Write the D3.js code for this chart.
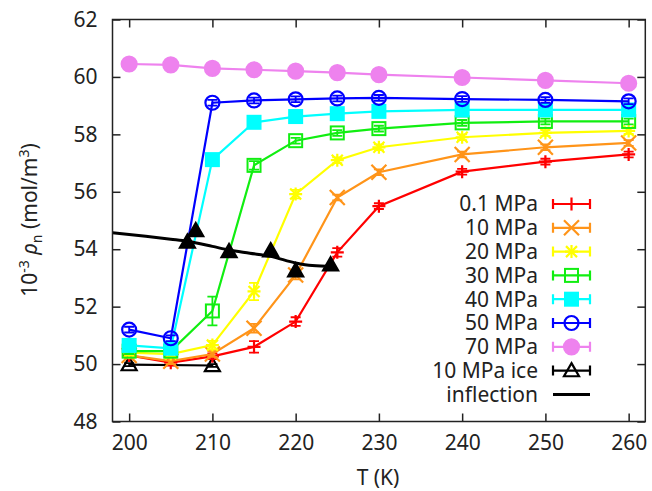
<!DOCTYPE html>
<html><head><meta charset="utf-8">
<script src="https://cdn.jsdelivr.net/npm/d3@7"></script>
<style>body{margin:0;background:#fff}svg{display:block}</style>
</head><body><svg id="c" width="652" height="491"></svg>
<script>
// ---- data ----
const temps = [200,205,210,215,220,225,230,240,250,260];
const rho01 = [50.30,50.05,50.27,50.60,51.48,53.89,55.50,56.70,57.05,57.30];
const rho10 = [50.30,50.10,50.35,51.25,53.10,55.80,56.68,57.30,57.55,57.70];
const rho20 = [50.40,50.35,50.66,52.53,55.92,57.10,57.55,57.90,58.05,58.12];
const rho30 = [50.45,50.45,51.85,56.92,57.78,58.05,58.20,58.40,58.45,58.45];
const rho40 = [50.65,50.55,57.12,58.42,58.62,58.72,58.80,58.85,58.85,58.85];
const rho50 = [51.20,50.90,59.10,59.18,59.22,59.25,59.27,59.23,59.20,59.15];
const rho70 = [60.45,60.42,60.30,60.25,60.20,60.15,60.08,59.98,59.88,59.78];
const err01 = [0.10,0.10,0.10,0.20,0.15,0.15,0.10,0.10,0.10,0.10];
const err10 = [0.10,0.10,0.10,0.15,0.15,0.10,0.10,0.10,0.10,0.10];
const err20 = [0.10,0.10,0.15,0.30,0.15,0.10,0.10,0.10,0.10,0.10];
const err30 = [0.10,0.10,0.50,0.15,0.10,0.10,0.10,0.10,0.10,0.10];
const err40 = [0.10,0.10,0.15,0.10,0.10,0.10,0.10,0.10,0.10,0.10];
const err50 = [0.10,0.10,0.10,0.10,0.10,0.10,0.10,0.10,0.10,0.10];
const err70 = [0.05,0.05,0.05,0.05,0.05,0.05,0.05,0.05,0.05,0.05];
const iceT = [200,210];
const rhoIce = [49.98,49.95];
const errIce = [0.05,0.05];
const inflT = [207,208,212,217,220,224.2];
const inflRho = [54.25,54.65,53.92,53.95,53.25,53.46];
const curveT = [198,202,205,207,210,212,214.5,217,220,222,224.5];
const curveRho = [54.57,54.45,54.35,54.28,54.10,53.97,53.86,53.75,53.52,53.43,53.40];
const seriesNames = ["0.1 MPa","10 MPa","20 MPa","30 MPa","40 MPa","50 MPa","70 MPa","10 MPa ice","inflection"];
const seriesColors = ["#ff0000","#ff9419","#ffff00","#11ee11","#00ffff","#0000ff","#ee82ee","#000000","#000000"];
const seriesMarkers = ["plus","cross","star","sqOpen","sqFill","circOpen","circFill","triOpen","none"];
const xTicks = [200,210,220,230,240,250,260];
const yTicks = [48,50,52,54,56,58,60,62];

// ---- chart ----
const svg = d3.select("#c");
const FONT = "'Noto Sans', 'Open Sans', sans-serif";
const x = d3.scaleLinear().domain([198,262]).range([112.5,645.3]);
const y = d3.scaleLinear().domain([48,62]).range([421.5,19.5]);

function marker(g, type, cx, cy, color){
  const s = 6.5;
  if(type==="plus"||type==="star"){
    g.append("path").attr("d",`M${cx-s},${cy}H${cx+s}M${cx},${cy-s}V${cy+s}`).attr("stroke",color).attr("stroke-width",2.2).attr("fill","none");
  }
  if(type==="cross"||type==="star"){
    const c = type==="star"?5.5:7.5;
    g.append("path").attr("d",`M${cx-c},${cy-c}L${cx+c},${cy+c}M${cx-c},${cy+c}L${cx+c},${cy-c}`).attr("stroke",color).attr("stroke-width",2.2).attr("fill","none");
  }
  if(type==="sqOpen"||type==="sqFill"){
    g.append("rect").attr("x",cx-6.5).attr("y",cy-6.5).attr("width",13).attr("height",13)
      .attr("fill",type==="sqFill"?color:"none").attr("stroke",color).attr("stroke-width",2);
  }
  if(type==="circOpen"||type==="circFill"){
    g.append("circle").attr("cx",cx).attr("cy",cy).attr("r",type==="circFill"?7.5:7)
      .attr("fill",type==="circFill"?color:"none").attr("stroke",color).attr("stroke-width",2.2);
  }
  if(type==="triOpen"||type==="triFill"){
    const h=7.5;
    g.append("path").attr("d",`M${cx},${cy-h}L${cx+h},${cy+h*0.75}L${cx-h},${cy+h*0.75}Z`)
      .attr("fill",type==="triFill"?color:"none").attr("stroke",color).attr("stroke-width",2.2).attr("stroke-linejoin","miter");
  }
}

// axes (inward ticks, mirrored)
const gx = svg.append("g").attr("transform",`translate(0,${y.range()[0]})`)
  .call(d3.axisBottom(x).tickValues(xTicks).tickSize(-8).tickPadding(14).tickFormat(d3.format("d")));
const gx2 = svg.append("g").attr("transform",`translate(0,${y.range()[1]})`)
  .call(d3.axisTop(x).tickValues(xTicks).tickSize(-8).tickFormat(""));
const gy = svg.append("g").attr("transform",`translate(${x.range()[0]},0)`)
  .call(d3.axisLeft(y).tickValues(yTicks).tickSize(-8).tickPadding(14).tickFormat(d3.format("d")));
const gy2 = svg.append("g").attr("transform",`translate(${x.range()[1]},0)`)
  .call(d3.axisRight(y).tickValues(yTicks).tickSize(-8).tickFormat(""));
[gx,gx2,gy,gy2].forEach(g=>{
  g.select(".domain").remove();
  g.selectAll(".tick line").attr("stroke","#222").attr("stroke-width",1.5);
  g.selectAll(".tick text").attr("font-family",FONT).attr("font-size",21).attr("fill","#222");
});
gy.selectAll(".tick text").attr("dx",-1);

const plot = svg.append("g");
const allRho = [rho01,rho10,rho20,rho30,rho40,rho50,rho70];
const allErr = [err01,err10,err20,err30,err40,err50,err70];
const lineGen = d3.line().x(d=>x(d[0])).y(d=>y(d[1]));

function drawSeries(ts, vals, errs, color, mtype){
  const g = plot.append("g");
  const pts = ts.map((t,i)=>[t,vals[i],errs[i]]);
  g.append("path").attr("d",lineGen(pts)).attr("fill","none").attr("stroke",color).attr("stroke-width",2.2);
  pts.forEach(p=>{
    const cx=x(p[0]), y1=y(p[1]-p[2]), y2=y(p[1]+p[2]);
    g.append("path").attr("d",`M${cx},${y1}V${y2}M${cx-5},${y1}H${cx+5}M${cx-5},${y2}H${cx+5}`)
      .attr("stroke",color).attr("stroke-width",1.8).attr("fill","none");
    marker(g, mtype, cx, y(p[1]), color);
  });
}
drawSeries(iceT, rhoIce, errIce, seriesColors[7], seriesMarkers[7]);
for(let i=0;i<7;i++) drawSeries(temps, allRho[i], allErr[i], seriesColors[i], seriesMarkers[i]);

// inflection curve + points
plot.append("path").attr("d",d3.line().curve(d3.curveMonotoneX).x((d,i)=>x(d)).y((d,i)=>y(curveRho[i]))(curveT))
  .attr("fill","none").attr("stroke","#000").attr("stroke-width",3);
inflT.forEach((t,i)=>marker(plot,"triFill",x(t),y(inflRho[i]),"#000"));

// frame
svg.append("rect").attr("x",x.range()[0]).attr("y",y.range()[1])
  .attr("width",x.range()[1]-x.range()[0]).attr("height",y.range()[0]-y.range()[1])
  .attr("fill","none").attr("stroke","#222").attr("stroke-width",1.5);

// legend
const lg = svg.append("g");
seriesNames.forEach((name,i)=>{
  const ly = 204 + i*23.8;
  const color = seriesColors[i];
  lg.append("text").attr("x",538).attr("y",ly).attr("dy","0.35em").attr("text-anchor","end")
    .attr("font-family",FONT).attr("font-size",21).attr("fill","#222").text(name);
  if(seriesMarkers[i]==="none"){
    lg.append("path").attr("d",`M553,${ly}H590`).attr("stroke",color).attr("stroke-width",3);
  } else {
    lg.append("path").attr("d",`M553,${ly}H590M553,${ly-5}V${ly+5}M590,${ly-5}V${ly+5}`)
      .attr("stroke",color).attr("stroke-width",2.2).attr("fill","none");
    marker(lg, seriesMarkers[i], 571.5, ly, color);
  }
});

// axis titles
svg.append("text").attr("x",378).attr("y",485).attr("text-anchor","middle")
  .attr("font-family",FONT).attr("font-size",21).attr("fill","#222").text("T (K)");
const yl = svg.append("text").attr("transform","translate(37,220) rotate(-90)").attr("text-anchor","middle")
  .attr("font-family",FONT).attr("font-size",21).attr("fill","#222");
yl.append("tspan").text("10");
yl.append("tspan").attr("dy",-8).attr("font-size",14).text("-3");
yl.append("tspan").attr("dy",8).text(" ");
yl.append("tspan").attr("font-style","italic").text("ρ");
yl.append("tspan").attr("dy",5).attr("font-size",14).text("n");
yl.append("tspan").attr("dy",-5).text(" (mol/m");
yl.append("tspan").attr("dy",-8).attr("font-size",14).text("3");
yl.append("tspan").attr("dy",8).text(")");
</script></body></html>
